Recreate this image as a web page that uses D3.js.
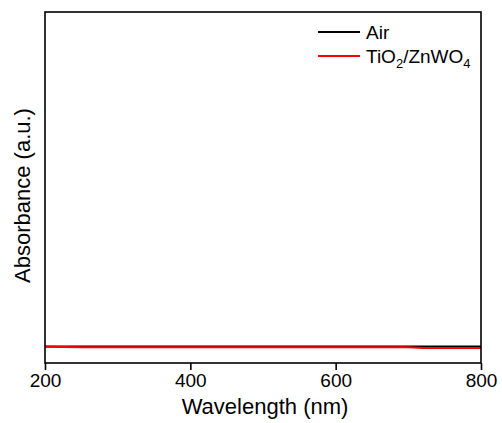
<!DOCTYPE html>
<html><head><meta charset="utf-8">
<script src="https://cdn.jsdelivr.net/npm/d3@7"></script>
<style>body{margin:0;background:#fff;} text{font-family:"Liberation Sans",Arial,sans-serif;}</style>
</head><body><svg id="c" width="502" height="423"></svg>
<script>
const wavelengths = [200,250,300,350,400,450,500,550,600,650,700,720,750,800];
const airValues   = [0.047,0.047,0.047,0.047,0.047,0.047,0.047,0.047,0.047,0.047,0.047,0.047,0.047,0.047];
const tiValues    = [0.046,0.045,0.045,0.045,0.045,0.045,0.045,0.045,0.045,0.045,0.045,0.043,0.043,0.043];
const xTicks = [200,400,600,800];
const seriesNames = ["Air","TiO2/ZnWO4"];

const svg = d3.select("#c");
const m = {l:45, r:481, t:12, b:363};
const x = d3.scaleLinear().domain([200,800]).range([m.l,m.r]);
const y = d3.scaleLinear().domain([0,1]).range([m.b,m.t]);

const line = d3.line().x(d=>x(d[0])).y(d=>y(d[1]));
const series = [
  {name:seriesNames[0], color:"#000", vals:airValues},
  {name:seriesNames[1], color:"#ff0000", vals:tiValues}
];
series.forEach(s=>{
  svg.append("path").datum(wavelengths.map((w,i)=>[w,s.vals[i]]))
    .attr("d",line).attr("fill","none").attr("stroke",s.color).attr("stroke-width",2);
});

// frame
svg.append("rect").attr("x",m.l).attr("y",m.t).attr("width",m.r-m.l).attr("height",m.b-m.t)
  .attr("fill","none").attr("stroke","#000").attr("stroke-width",1.6);

const xa = svg.append("g").attr("transform",`translate(0,${m.b})`)
  .call(d3.axisBottom(x).tickValues(xTicks).tickSize(7).tickPadding(4).tickFormat(d3.format("d")));
xa.select(".domain").remove();
xa.selectAll("line").attr("stroke-width",1.6);
xa.selectAll("text").attr("font-size",19).attr("fill","#000");

svg.append("text").attr("x",(m.l+m.r)/2+2).attr("y",414).attr("text-anchor","middle")
  .attr("font-size",22).text("Wavelength (nm)");
svg.append("text").attr("transform",`translate(30,${(m.t+m.b)/2+8}) rotate(-90)`)
  .attr("text-anchor","middle").attr("font-size",22).text("Absorbance (a.u.)");

// legend
const lg = svg.append("g");
series.forEach((s,i)=>{
  const ly = 32 + i*24;
  lg.append("line").attr("x1",318).attr("x2",360).attr("y1",ly).attr("y2",ly)
    .attr("stroke",s.color).attr("stroke-width",2);
  const t = lg.append("text").attr("x",366).attr("y",ly+7).attr("font-size",19);
  if(i===0){ t.text(s.name); }
  else {
    t.append("tspan").text("TiO");
    t.append("tspan").attr("font-size",13).attr("dy",5).text("2");
    t.append("tspan").attr("dy",-5).text("/ZnWO");
    t.append("tspan").attr("font-size",13).attr("dy",5).text("4");
  }
});
</script></body></html>
